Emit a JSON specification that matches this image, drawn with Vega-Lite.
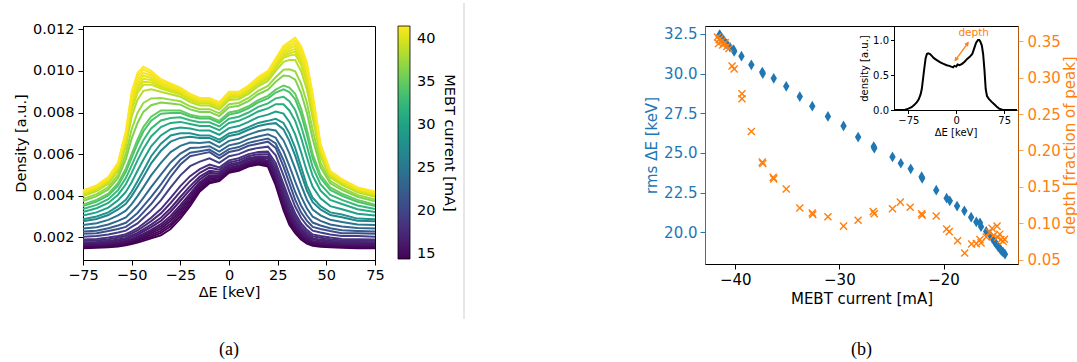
{
"$schema": "https://vega.github.io/schema/vega-lite/v6.json",
"padding": {"left": 12, "top": 2, "right": 0, "bottom": 0},
"bounds": "flush",
"spacing": 89,
"resolve": {"scale": {"color": "independent"}, "legend": {"color": "independent"}},
"config": {
 "font": "DejaVu Sans",
 "view": {"stroke": "black", "strokeWidth": 1},
 "axis": {"grid": false, "labelFont": "DejaVu Sans", "titleFont": "DejaVu Sans", "labelFontSize": 14.5, "titleFontSize": 14.5, "titleFontWeight": "normal", "labelColor": "black", "titleColor": "black", "tickColor": "black", "domainColor": "black", "tickSize": 5, "labelPadding": 3, "titlePadding": 4, "labelFlush": false, "labelOverlap": false, "labelBound": false},
 "legend": {"labelFont": "DejaVu Sans", "titleFont": "DejaVu Sans", "labelFontSize": 14.5, "titleFontSize": 14.5, "titleFontWeight": "normal", "labelColor": "black", "titleColor": "black"},
 "title": {"font": "Liberation Serif", "fontSize": 18, "fontWeight": "normal", "color": "black"}
},
"datasets": {
"curves": [
{"I":14.1,"E":-75,"d":0.00148},{"I":14.1,"E":-68,"d":0.0015},{"I":14.1,"E":-62,"d":0.00152},{"I":14.1,"E":-57,"d":0.00156},{"I":14.1,"E":-53,"d":0.00162},{"I":14.1,"E":-50,"d":0.00168},{"I":14.1,"E":-47,"d":0.00175},{"I":14.1,"E":-44,"d":0.00183},{"I":14.1,"E":-40,"d":0.00195},{"I":14.1,"E":-35,"d":0.0021},{"I":14.1,"E":-30,"d":0.0024},{"I":14.1,"E":-25,"d":0.0029},{"I":14.1,"E":-20,"d":0.0035},{"I":14.1,"E":-15,"d":0.0042},{"I":14.1,"E":-10,"d":0.0046},{"I":14.1,"E":-5,"d":0.0047},{"I":14.1,"E":0,"d":0.0051},{"I":14.1,"E":5,"d":0.0052},{"I":14.1,"E":10,"d":0.0054},{"I":14.1,"E":15,"d":0.0055},{"I":14.1,"E":20,"d":0.0054},{"I":14.1,"E":24,"d":0.0045},{"I":14.1,"E":28,"d":0.0033},{"I":14.1,"E":31,"d":0.0026},{"I":14.1,"E":34,"d":0.0022},{"I":14.1,"E":37,"d":0.0019},{"I":14.1,"E":40,"d":0.0017},{"I":14.1,"E":43,"d":0.0016},{"I":14.1,"E":47,"d":0.00155},{"I":14.1,"E":52,"d":0.00152},{"I":14.1,"E":58,"d":0.0015},{"I":14.1,"E":66,"d":0.00148},{"I":14.1,"E":75,"d":0.00148},
{"I":14.5,"E":-75,"d":0.00151},{"I":14.5,"E":-68,"d":0.00154},{"I":14.5,"E":-62,"d":0.00156},{"I":14.5,"E":-57,"d":0.0016},{"I":14.5,"E":-53,"d":0.00166},{"I":14.5,"E":-50,"d":0.00173},{"I":14.5,"E":-47,"d":0.00181},{"I":14.5,"E":-44,"d":0.0019},{"I":14.5,"E":-40,"d":0.00203},{"I":14.5,"E":-35,"d":0.00221},{"I":14.5,"E":-30,"d":0.00253},{"I":14.5,"E":-25,"d":0.00303},{"I":14.5,"E":-20,"d":0.00362},{"I":14.5,"E":-15,"d":0.00429},{"I":14.5,"E":-10,"d":0.00468},{"I":14.5,"E":-5,"d":0.00476},{"I":14.5,"E":0,"d":0.00515},{"I":14.5,"E":5,"d":0.00525},{"I":14.5,"E":10,"d":0.00545},{"I":14.5,"E":15,"d":0.00555},{"I":14.5,"E":20,"d":0.00546},{"I":14.5,"E":24,"d":0.00459},{"I":14.5,"E":28,"d":0.00341},{"I":14.5,"E":31,"d":0.0027},{"I":14.5,"E":34,"d":0.00228},{"I":14.5,"E":37,"d":0.00197},{"I":14.5,"E":40,"d":0.00176},{"I":14.5,"E":43,"d":0.00165},{"I":14.5,"E":47,"d":0.00159},{"I":14.5,"E":52,"d":0.00156},{"I":14.5,"E":58,"d":0.00154},{"I":14.5,"E":66,"d":0.00152},{"I":14.5,"E":75,"d":0.00151},
{"I":14.8,"E":-75,"d":0.00155},{"I":14.8,"E":-68,"d":0.00157},{"I":14.8,"E":-62,"d":0.0016},{"I":14.8,"E":-57,"d":0.00164},{"I":14.8,"E":-53,"d":0.00171},{"I":14.8,"E":-50,"d":0.00178},{"I":14.8,"E":-47,"d":0.00187},{"I":14.8,"E":-44,"d":0.00197},{"I":14.8,"E":-40,"d":0.00212},{"I":14.8,"E":-35,"d":0.00231},{"I":14.8,"E":-30,"d":0.00265},{"I":14.8,"E":-25,"d":0.00316},{"I":14.8,"E":-20,"d":0.00374},{"I":14.8,"E":-15,"d":0.00438},{"I":14.8,"E":-10,"d":0.00475},{"I":14.8,"E":-5,"d":0.00481},{"I":14.8,"E":0,"d":0.0052},{"I":14.8,"E":5,"d":0.0053},{"I":14.8,"E":10,"d":0.0055},{"I":14.8,"E":15,"d":0.0056},{"I":14.8,"E":20,"d":0.00552},{"I":14.8,"E":24,"d":0.00468},{"I":14.8,"E":28,"d":0.00351},{"I":14.8,"E":31,"d":0.0028},{"I":14.8,"E":34,"d":0.00236},{"I":14.8,"E":37,"d":0.00203},{"I":14.8,"E":40,"d":0.00181},{"I":14.8,"E":43,"d":0.00169},{"I":14.8,"E":47,"d":0.00164},{"I":14.8,"E":52,"d":0.0016},{"I":14.8,"E":58,"d":0.00157},{"I":14.8,"E":66,"d":0.00155},{"I":14.8,"E":75,"d":0.00155},
{"I":15.1,"E":-75,"d":0.00158},{"I":15.1,"E":-68,"d":0.00161},{"I":15.1,"E":-62,"d":0.00164},{"I":15.1,"E":-57,"d":0.00169},{"I":15.1,"E":-53,"d":0.00175},{"I":15.1,"E":-50,"d":0.00183},{"I":15.1,"E":-47,"d":0.00192},{"I":15.1,"E":-44,"d":0.00204},{"I":15.1,"E":-40,"d":0.0022},{"I":15.1,"E":-35,"d":0.00242},{"I":15.1,"E":-30,"d":0.00278},{"I":15.1,"E":-25,"d":0.00329},{"I":15.1,"E":-20,"d":0.00386},{"I":15.1,"E":-15,"d":0.00447},{"I":15.1,"E":-10,"d":0.00483},{"I":15.1,"E":-5,"d":0.00487},{"I":15.1,"E":0,"d":0.00525},{"I":15.1,"E":5,"d":0.00535},{"I":15.1,"E":10,"d":0.00555},{"I":15.1,"E":15,"d":0.00565},{"I":15.1,"E":20,"d":0.00558},{"I":15.1,"E":24,"d":0.00477},{"I":15.1,"E":28,"d":0.00362},{"I":15.1,"E":31,"d":0.0029},{"I":15.1,"E":34,"d":0.00244},{"I":15.1,"E":37,"d":0.0021},{"I":15.1,"E":40,"d":0.00187},{"I":15.1,"E":43,"d":0.00174},{"I":15.1,"E":47,"d":0.00168},{"I":15.1,"E":52,"d":0.00164},{"I":15.1,"E":58,"d":0.00161},{"I":15.1,"E":66,"d":0.00159},{"I":15.1,"E":75,"d":0.00158},
{"I":15.5,"E":-75,"d":0.00162},{"I":15.5,"E":-68,"d":0.00164},{"I":15.5,"E":-62,"d":0.00168},{"I":15.5,"E":-57,"d":0.00173},{"I":15.5,"E":-53,"d":0.0018},{"I":15.5,"E":-50,"d":0.00188},{"I":15.5,"E":-47,"d":0.00198},{"I":15.5,"E":-44,"d":0.0021},{"I":15.5,"E":-40,"d":0.00228},{"I":15.5,"E":-35,"d":0.00252},{"I":15.5,"E":-30,"d":0.0029},{"I":15.5,"E":-25,"d":0.00342},{"I":15.5,"E":-20,"d":0.00398},{"I":15.5,"E":-15,"d":0.00456},{"I":15.5,"E":-10,"d":0.0049},{"I":15.5,"E":-5,"d":0.00492},{"I":15.5,"E":0,"d":0.0053},{"I":15.5,"E":5,"d":0.0054},{"I":15.5,"E":10,"d":0.0056},{"I":15.5,"E":15,"d":0.0057},{"I":15.5,"E":20,"d":0.00564},{"I":15.5,"E":24,"d":0.00486},{"I":15.5,"E":28,"d":0.00372},{"I":15.5,"E":31,"d":0.003},{"I":15.5,"E":34,"d":0.00252},{"I":15.5,"E":37,"d":0.00216},{"I":15.5,"E":40,"d":0.00192},{"I":15.5,"E":43,"d":0.00178},{"I":15.5,"E":47,"d":0.00172},{"I":15.5,"E":52,"d":0.00168},{"I":15.5,"E":58,"d":0.00164},{"I":15.5,"E":66,"d":0.00162},{"I":15.5,"E":75,"d":0.00162},
{"I":15.9,"E":-75,"d":0.00165},{"I":15.9,"E":-68,"d":0.00168},{"I":15.9,"E":-62,"d":0.00172},{"I":15.9,"E":-57,"d":0.00177},{"I":15.9,"E":-53,"d":0.00184},{"I":15.9,"E":-50,"d":0.00194},{"I":15.9,"E":-47,"d":0.00204},{"I":15.9,"E":-44,"d":0.00217},{"I":15.9,"E":-40,"d":0.00236},{"I":15.9,"E":-35,"d":0.00263},{"I":15.9,"E":-30,"d":0.00303},{"I":15.9,"E":-25,"d":0.00355},{"I":15.9,"E":-20,"d":0.0041},{"I":15.9,"E":-15,"d":0.00465},{"I":15.9,"E":-10,"d":0.00498},{"I":15.9,"E":-5,"d":0.00498},{"I":15.9,"E":0,"d":0.00535},{"I":15.9,"E":5,"d":0.00545},{"I":15.9,"E":10,"d":0.00565},{"I":15.9,"E":15,"d":0.00575},{"I":15.9,"E":20,"d":0.0057},{"I":15.9,"E":24,"d":0.00495},{"I":15.9,"E":28,"d":0.00383},{"I":15.9,"E":31,"d":0.0031},{"I":15.9,"E":34,"d":0.0026},{"I":15.9,"E":37,"d":0.00223},{"I":15.9,"E":40,"d":0.00198},{"I":15.9,"E":43,"d":0.00183},{"I":15.9,"E":47,"d":0.00176},{"I":15.9,"E":52,"d":0.00172},{"I":15.9,"E":58,"d":0.00168},{"I":15.9,"E":66,"d":0.00166},{"I":15.9,"E":75,"d":0.00165},
{"I":16.4,"E":-75,"d":0.00171},{"I":16.4,"E":-68,"d":0.00173},{"I":16.4,"E":-62,"d":0.00178},{"I":16.4,"E":-57,"d":0.00184},{"I":16.4,"E":-53,"d":0.00191},{"I":16.4,"E":-50,"d":0.00202},{"I":16.4,"E":-47,"d":0.00213},{"I":16.4,"E":-44,"d":0.00228},{"I":16.4,"E":-40,"d":0.00249},{"I":16.4,"E":-35,"d":0.00279},{"I":16.4,"E":-30,"d":0.00323},{"I":16.4,"E":-25,"d":0.00376},{"I":16.4,"E":-20,"d":0.00429},{"I":16.4,"E":-15,"d":0.00479},{"I":16.4,"E":-10,"d":0.0051},{"I":16.4,"E":-5,"d":0.00506},{"I":16.4,"E":0,"d":0.00543},{"I":16.4,"E":5,"d":0.00553},{"I":16.4,"E":10,"d":0.00573},{"I":16.4,"E":15,"d":0.00583},{"I":16.4,"E":20,"d":0.0058},{"I":16.4,"E":24,"d":0.00509},{"I":16.4,"E":28,"d":0.00399},{"I":16.4,"E":31,"d":0.00326},{"I":16.4,"E":34,"d":0.00273},{"I":16.4,"E":37,"d":0.00233},{"I":16.4,"E":40,"d":0.00206},{"I":16.4,"E":43,"d":0.0019},{"I":16.4,"E":47,"d":0.00183},{"I":16.4,"E":52,"d":0.00178},{"I":16.4,"E":58,"d":0.00173},{"I":16.4,"E":66,"d":0.00172},{"I":16.4,"E":75,"d":0.00171},
{"I":16.9,"E":-75,"d":0.00176},{"I":16.9,"E":-68,"d":0.00178},{"I":16.9,"E":-62,"d":0.00183},{"I":16.9,"E":-57,"d":0.0019},{"I":16.9,"E":-53,"d":0.00197},{"I":16.9,"E":-50,"d":0.00209},{"I":16.9,"E":-47,"d":0.00221},{"I":16.9,"E":-44,"d":0.00238},{"I":16.9,"E":-40,"d":0.00261},{"I":16.9,"E":-35,"d":0.00294},{"I":16.9,"E":-30,"d":0.0034},{"I":16.9,"E":-25,"d":0.00394},{"I":16.9,"E":-20,"d":0.00446},{"I":16.9,"E":-15,"d":0.00492},{"I":16.9,"E":-10,"d":0.0052},{"I":16.9,"E":-5,"d":0.00514},{"I":16.9,"E":0,"d":0.0055},{"I":16.9,"E":5,"d":0.0056},{"I":16.9,"E":10,"d":0.0058},{"I":16.9,"E":15,"d":0.0059},{"I":16.9,"E":20,"d":0.00588},{"I":16.9,"E":24,"d":0.00522},{"I":16.9,"E":28,"d":0.00414},{"I":16.9,"E":31,"d":0.0034},{"I":16.9,"E":34,"d":0.00284},{"I":16.9,"E":37,"d":0.00242},{"I":16.9,"E":40,"d":0.00214},{"I":16.9,"E":43,"d":0.00196},{"I":16.9,"E":47,"d":0.00189},{"I":16.9,"E":52,"d":0.00183},{"I":16.9,"E":58,"d":0.00178},{"I":16.9,"E":66,"d":0.00177},{"I":16.9,"E":75,"d":0.00176},
{"I":17.5,"E":-75,"d":0.00183},{"I":17.5,"E":-68,"d":0.00185},{"I":17.5,"E":-62,"d":0.00191},{"I":17.5,"E":-57,"d":0.00198},{"I":17.5,"E":-53,"d":0.00206},{"I":17.5,"E":-50,"d":0.00219},{"I":17.5,"E":-47,"d":0.00233},{"I":17.5,"E":-44,"d":0.00252},{"I":17.5,"E":-40,"d":0.00278},{"I":17.5,"E":-35,"d":0.00315},{"I":17.5,"E":-30,"d":0.00365},{"I":17.5,"E":-25,"d":0.0042},{"I":17.5,"E":-20,"d":0.0047},{"I":17.5,"E":-15,"d":0.0051},{"I":17.5,"E":-10,"d":0.00535},{"I":17.5,"E":-5,"d":0.00525},{"I":17.5,"E":0,"d":0.0056},{"I":17.5,"E":5,"d":0.0057},{"I":17.5,"E":10,"d":0.0059},{"I":17.5,"E":15,"d":0.006},{"I":17.5,"E":20,"d":0.006},{"I":17.5,"E":24,"d":0.0054},{"I":17.5,"E":28,"d":0.00435},{"I":17.5,"E":31,"d":0.0036},{"I":17.5,"E":34,"d":0.003},{"I":17.5,"E":37,"d":0.00255},{"I":17.5,"E":40,"d":0.00225},{"I":17.5,"E":43,"d":0.00205},{"I":17.5,"E":47,"d":0.00198},{"I":17.5,"E":52,"d":0.00191},{"I":17.5,"E":58,"d":0.00185},{"I":17.5,"E":66,"d":0.00184},{"I":17.5,"E":75,"d":0.00183},
{"I":18.0,"E":-75,"d":0.00189},{"I":18.0,"E":-68,"d":0.00192},{"I":18.0,"E":-62,"d":0.00199},{"I":18.0,"E":-57,"d":0.00206},{"I":18.0,"E":-53,"d":0.00215},{"I":18.0,"E":-50,"d":0.00229},{"I":18.0,"E":-47,"d":0.00244},{"I":18.0,"E":-44,"d":0.00265},{"I":18.0,"E":-40,"d":0.00294},{"I":18.0,"E":-35,"d":0.00336},{"I":18.0,"E":-30,"d":0.0039},{"I":18.0,"E":-25,"d":0.00446},{"I":18.0,"E":-20,"d":0.00494},{"I":18.0,"E":-15,"d":0.00528},{"I":18.0,"E":-10,"d":0.0055},{"I":18.0,"E":-5,"d":0.00536},{"I":18.0,"E":0,"d":0.0057},{"I":18.0,"E":5,"d":0.0058},{"I":18.0,"E":10,"d":0.006},{"I":18.0,"E":15,"d":0.0061},{"I":18.0,"E":20,"d":0.00612},{"I":18.0,"E":24,"d":0.00558},{"I":18.0,"E":28,"d":0.00456},{"I":18.0,"E":31,"d":0.0038},{"I":18.0,"E":34,"d":0.00316},{"I":18.0,"E":37,"d":0.00268},{"I":18.0,"E":40,"d":0.00236},{"I":18.0,"E":43,"d":0.00214},{"I":18.0,"E":47,"d":0.00206},{"I":18.0,"E":52,"d":0.00199},{"I":18.0,"E":58,"d":0.00192},{"I":18.0,"E":66,"d":0.00191},{"I":18.0,"E":75,"d":0.00189},
{"I":19.4,"E":-75,"d":0.00203},{"I":19.4,"E":-68,"d":0.00206},{"I":19.4,"E":-62,"d":0.00214},{"I":19.4,"E":-57,"d":0.00223},{"I":19.4,"E":-53,"d":0.00232},{"I":19.4,"E":-50,"d":0.0025},{"I":19.4,"E":-47,"d":0.00267},{"I":19.4,"E":-44,"d":0.00293},{"I":19.4,"E":-40,"d":0.00327},{"I":19.4,"E":-35,"d":0.00378},{"I":19.4,"E":-30,"d":0.0044},{"I":19.4,"E":-25,"d":0.00498},{"I":19.4,"E":-20,"d":0.00542},{"I":19.4,"E":-15,"d":0.00564},{"I":19.4,"E":-10,"d":0.0058},{"I":19.4,"E":-5,"d":0.00558},{"I":19.4,"E":0,"d":0.0059},{"I":19.4,"E":5,"d":0.006},{"I":19.4,"E":10,"d":0.0062},{"I":19.4,"E":15,"d":0.0063},{"I":19.4,"E":20,"d":0.00636},{"I":19.4,"E":24,"d":0.00594},{"I":19.4,"E":28,"d":0.00498},{"I":19.4,"E":31,"d":0.0042},{"I":19.4,"E":34,"d":0.00348},{"I":19.4,"E":37,"d":0.00294},{"I":19.4,"E":40,"d":0.00258},{"I":19.4,"E":43,"d":0.00232},{"I":19.4,"E":47,"d":0.00223},{"I":19.4,"E":52,"d":0.00214},{"I":19.4,"E":58,"d":0.00206},{"I":19.4,"E":66,"d":0.00206},{"I":19.4,"E":75,"d":0.00203},
{"I":20.7,"E":-75,"d":0.00217},{"I":20.7,"E":-68,"d":0.0022},{"I":20.7,"E":-62,"d":0.0023},{"I":20.7,"E":-57,"d":0.0024},{"I":20.7,"E":-53,"d":0.0025},{"I":20.7,"E":-50,"d":0.0027},{"I":20.7,"E":-47,"d":0.0029},{"I":20.7,"E":-44,"d":0.0032},{"I":20.7,"E":-40,"d":0.0036},{"I":20.7,"E":-35,"d":0.0042},{"I":20.7,"E":-30,"d":0.0049},{"I":20.7,"E":-25,"d":0.0055},{"I":20.7,"E":-20,"d":0.0059},{"I":20.7,"E":-15,"d":0.006},{"I":20.7,"E":-10,"d":0.0061},{"I":20.7,"E":-5,"d":0.0058},{"I":20.7,"E":0,"d":0.0061},{"I":20.7,"E":5,"d":0.0062},{"I":20.7,"E":10,"d":0.0064},{"I":20.7,"E":15,"d":0.0065},{"I":20.7,"E":20,"d":0.0066},{"I":20.7,"E":24,"d":0.0063},{"I":20.7,"E":28,"d":0.0054},{"I":20.7,"E":31,"d":0.0046},{"I":20.7,"E":34,"d":0.0038},{"I":20.7,"E":37,"d":0.0032},{"I":20.7,"E":40,"d":0.0028},{"I":20.7,"E":43,"d":0.0025},{"I":20.7,"E":47,"d":0.0024},{"I":20.7,"E":52,"d":0.0023},{"I":20.7,"E":58,"d":0.0022},{"I":20.7,"E":66,"d":0.0022},{"I":20.7,"E":75,"d":0.00217},
{"I":22.1,"E":-75,"d":0.00228},{"I":22.1,"E":-68,"d":0.00232},{"I":22.1,"E":-62,"d":0.00244},{"I":22.1,"E":-57,"d":0.00257},{"I":22.1,"E":-53,"d":0.0027},{"I":22.1,"E":-50,"d":0.00293},{"I":22.1,"E":-47,"d":0.00317},{"I":22.1,"E":-44,"d":0.0035},{"I":22.1,"E":-40,"d":0.00395},{"I":22.1,"E":-35,"d":0.00455},{"I":22.1,"E":-30,"d":0.0052},{"I":22.1,"E":-25,"d":0.00573},{"I":22.1,"E":-20,"d":0.00607},{"I":22.1,"E":-15,"d":0.00614},{"I":22.1,"E":-10,"d":0.00622},{"I":22.1,"E":-5,"d":0.00594},{"I":22.1,"E":0,"d":0.00624},{"I":22.1,"E":5,"d":0.00634},{"I":22.1,"E":10,"d":0.00654},{"I":22.1,"E":15,"d":0.00665},{"I":22.1,"E":20,"d":0.00675},{"I":22.1,"E":24,"d":0.00651},{"I":22.1,"E":28,"d":0.00572},{"I":22.1,"E":31,"d":0.00496},{"I":22.1,"E":34,"d":0.00418},{"I":22.1,"E":37,"d":0.00353},{"I":22.1,"E":40,"d":0.00306},{"I":22.1,"E":43,"d":0.00271},{"I":22.1,"E":47,"d":0.00257},{"I":22.1,"E":52,"d":0.00244},{"I":22.1,"E":58,"d":0.00234},{"I":22.1,"E":66,"d":0.00231},{"I":22.1,"E":75,"d":0.00228},
{"I":23.2,"E":-75,"d":0.00242},{"I":23.2,"E":-68,"d":0.00248},{"I":23.2,"E":-62,"d":0.00262},{"I":23.2,"E":-57,"d":0.00279},{"I":23.2,"E":-53,"d":0.00296},{"I":23.2,"E":-50,"d":0.00323},{"I":23.2,"E":-47,"d":0.00353},{"I":23.2,"E":-44,"d":0.0039},{"I":23.2,"E":-40,"d":0.00441},{"I":23.2,"E":-35,"d":0.00501},{"I":23.2,"E":-30,"d":0.0056},{"I":23.2,"E":-25,"d":0.00603},{"I":23.2,"E":-20,"d":0.00629},{"I":23.2,"E":-15,"d":0.00632},{"I":23.2,"E":-10,"d":0.00638},{"I":23.2,"E":-5,"d":0.00612},{"I":23.2,"E":0,"d":0.00642},{"I":23.2,"E":5,"d":0.00652},{"I":23.2,"E":10,"d":0.00672},{"I":23.2,"E":15,"d":0.00685},{"I":23.2,"E":20,"d":0.00695},{"I":23.2,"E":24,"d":0.00679},{"I":23.2,"E":28,"d":0.00614},{"I":23.2,"E":31,"d":0.00544},{"I":23.2,"E":34,"d":0.00468},{"I":23.2,"E":37,"d":0.00397},{"I":23.2,"E":40,"d":0.0034},{"I":23.2,"E":43,"d":0.00299},{"I":23.2,"E":47,"d":0.00279},{"I":23.2,"E":52,"d":0.00262},{"I":23.2,"E":58,"d":0.00252},{"I":23.2,"E":66,"d":0.00245},{"I":23.2,"E":75,"d":0.00242},
{"I":24.9,"E":-75,"d":0.00259},{"I":24.9,"E":-68,"d":0.00268},{"I":24.9,"E":-62,"d":0.00284},{"I":24.9,"E":-57,"d":0.00306},{"I":24.9,"E":-53,"d":0.00328},{"I":24.9,"E":-50,"d":0.0036},{"I":24.9,"E":-47,"d":0.00398},{"I":24.9,"E":-44,"d":0.0044},{"I":24.9,"E":-40,"d":0.00498},{"I":24.9,"E":-35,"d":0.00558},{"I":24.9,"E":-30,"d":0.0061},{"I":24.9,"E":-25,"d":0.0064},{"I":24.9,"E":-20,"d":0.00656},{"I":24.9,"E":-15,"d":0.00654},{"I":24.9,"E":-10,"d":0.00658},{"I":24.9,"E":-5,"d":0.00634},{"I":24.9,"E":0,"d":0.00664},{"I":24.9,"E":5,"d":0.00674},{"I":24.9,"E":10,"d":0.00694},{"I":24.9,"E":15,"d":0.0071},{"I":24.9,"E":20,"d":0.0072},{"I":24.9,"E":24,"d":0.00714},{"I":24.9,"E":28,"d":0.00666},{"I":24.9,"E":31,"d":0.00604},{"I":24.9,"E":34,"d":0.0053},{"I":24.9,"E":37,"d":0.00452},{"I":24.9,"E":40,"d":0.00382},{"I":24.9,"E":43,"d":0.00334},{"I":24.9,"E":47,"d":0.00306},{"I":24.9,"E":52,"d":0.00284},{"I":24.9,"E":58,"d":0.00274},{"I":24.9,"E":66,"d":0.00262},{"I":24.9,"E":75,"d":0.00259},
{"I":26.7,"E":-75,"d":0.00277},{"I":26.7,"E":-68,"d":0.00288},{"I":26.7,"E":-62,"d":0.00307},{"I":26.7,"E":-57,"d":0.00334},{"I":26.7,"E":-53,"d":0.00361},{"I":26.7,"E":-50,"d":0.00398},{"I":26.7,"E":-47,"d":0.00443},{"I":26.7,"E":-44,"d":0.0049},{"I":26.7,"E":-40,"d":0.00556},{"I":26.7,"E":-35,"d":0.00616},{"I":26.7,"E":-30,"d":0.0066},{"I":26.7,"E":-25,"d":0.00678},{"I":26.7,"E":-20,"d":0.00684},{"I":26.7,"E":-15,"d":0.00677},{"I":26.7,"E":-10,"d":0.00678},{"I":26.7,"E":-5,"d":0.00657},{"I":26.7,"E":0,"d":0.00687},{"I":26.7,"E":5,"d":0.00697},{"I":26.7,"E":10,"d":0.00717},{"I":26.7,"E":15,"d":0.00735},{"I":26.7,"E":20,"d":0.00745},{"I":26.7,"E":24,"d":0.00749},{"I":26.7,"E":28,"d":0.00719},{"I":26.7,"E":31,"d":0.00664},{"I":26.7,"E":34,"d":0.00593},{"I":26.7,"E":37,"d":0.00507},{"I":26.7,"E":40,"d":0.00425},{"I":26.7,"E":43,"d":0.00369},{"I":26.7,"E":47,"d":0.00334},{"I":26.7,"E":52,"d":0.00307},{"I":26.7,"E":58,"d":0.00297},{"I":26.7,"E":66,"d":0.0028},{"I":26.7,"E":75,"d":0.00277},
{"I":28.2,"E":-75,"d":0.00287},{"I":28.2,"E":-68,"d":0.003},{"I":28.2,"E":-62,"d":0.0032},{"I":28.2,"E":-57,"d":0.0035},{"I":28.2,"E":-53,"d":0.0038},{"I":28.2,"E":-50,"d":0.0042},{"I":28.2,"E":-47,"d":0.0047},{"I":28.2,"E":-44,"d":0.0052},{"I":28.2,"E":-40,"d":0.0059},{"I":28.2,"E":-35,"d":0.0065},{"I":28.2,"E":-30,"d":0.0069},{"I":28.2,"E":-25,"d":0.007},{"I":28.2,"E":-20,"d":0.007},{"I":28.2,"E":-15,"d":0.0069},{"I":28.2,"E":-10,"d":0.0069},{"I":28.2,"E":-5,"d":0.0067},{"I":28.2,"E":0,"d":0.007},{"I":28.2,"E":5,"d":0.0071},{"I":28.2,"E":10,"d":0.0073},{"I":28.2,"E":15,"d":0.0075},{"I":28.2,"E":20,"d":0.0076},{"I":28.2,"E":24,"d":0.0077},{"I":28.2,"E":28,"d":0.0075},{"I":28.2,"E":31,"d":0.007},{"I":28.2,"E":34,"d":0.0063},{"I":28.2,"E":37,"d":0.0054},{"I":28.2,"E":40,"d":0.0045},{"I":28.2,"E":43,"d":0.0039},{"I":28.2,"E":47,"d":0.0035},{"I":28.2,"E":52,"d":0.0032},{"I":28.2,"E":58,"d":0.0031},{"I":28.2,"E":66,"d":0.0029},{"I":28.2,"E":75,"d":0.00287},
{"I":29.6,"E":-75,"d":0.00305},{"I":29.6,"E":-68,"d":0.0032},{"I":29.6,"E":-62,"d":0.00343},{"I":29.6,"E":-57,"d":0.00378},{"I":29.6,"E":-53,"d":0.00418},{"I":29.6,"E":-50,"d":0.00465},{"I":29.6,"E":-47,"d":0.0052},{"I":29.6,"E":-44,"d":0.00573},{"I":29.6,"E":-40,"d":0.00638},{"I":29.6,"E":-35,"d":0.0069},{"I":29.6,"E":-30,"d":0.0072},{"I":29.6,"E":-25,"d":0.00728},{"I":29.6,"E":-20,"d":0.00723},{"I":29.6,"E":-15,"d":0.00713},{"I":29.6,"E":-10,"d":0.00713},{"I":29.6,"E":-5,"d":0.00693},{"I":29.6,"E":0,"d":0.00725},{"I":29.6,"E":5,"d":0.00735},{"I":29.6,"E":10,"d":0.00755},{"I":29.6,"E":15,"d":0.00778},{"I":29.6,"E":20,"d":0.0079},{"I":29.6,"E":24,"d":0.00805},{"I":29.6,"E":28,"d":0.00795},{"I":29.6,"E":31,"d":0.00755},{"I":29.6,"E":34,"d":0.00695},{"I":29.6,"E":37,"d":0.0061},{"I":29.6,"E":40,"d":0.00518},{"I":29.6,"E":43,"d":0.00443},{"I":29.6,"E":47,"d":0.00388},{"I":29.6,"E":52,"d":0.0035},{"I":29.6,"E":58,"d":0.00335},{"I":29.6,"E":66,"d":0.00313},{"I":29.6,"E":75,"d":0.00305},
{"I":31.1,"E":-75,"d":0.00322},{"I":31.1,"E":-68,"d":0.0034},{"I":31.1,"E":-62,"d":0.00365},{"I":31.1,"E":-57,"d":0.00405},{"I":31.1,"E":-53,"d":0.00455},{"I":31.1,"E":-50,"d":0.0051},{"I":31.1,"E":-47,"d":0.0057},{"I":31.1,"E":-44,"d":0.00625},{"I":31.1,"E":-40,"d":0.00685},{"I":31.1,"E":-35,"d":0.0073},{"I":31.1,"E":-30,"d":0.0075},{"I":31.1,"E":-25,"d":0.00755},{"I":31.1,"E":-20,"d":0.00745},{"I":31.1,"E":-15,"d":0.00735},{"I":31.1,"E":-10,"d":0.00735},{"I":31.1,"E":-5,"d":0.00715},{"I":31.1,"E":0,"d":0.0075},{"I":31.1,"E":5,"d":0.0076},{"I":31.1,"E":10,"d":0.0078},{"I":31.1,"E":15,"d":0.00805},{"I":31.1,"E":20,"d":0.0082},{"I":31.1,"E":24,"d":0.0084},{"I":31.1,"E":28,"d":0.0084},{"I":31.1,"E":31,"d":0.0081},{"I":31.1,"E":34,"d":0.0076},{"I":31.1,"E":37,"d":0.0068},{"I":31.1,"E":40,"d":0.00585},{"I":31.1,"E":43,"d":0.00495},{"I":31.1,"E":47,"d":0.00425},{"I":31.1,"E":52,"d":0.0038},{"I":31.1,"E":58,"d":0.0036},{"I":31.1,"E":66,"d":0.00335},{"I":31.1,"E":75,"d":0.00322},
{"I":32.6,"E":-75,"d":0.00336},{"I":32.6,"E":-68,"d":0.00356},{"I":32.6,"E":-62,"d":0.00383},{"I":32.6,"E":-57,"d":0.00427},{"I":32.6,"E":-53,"d":0.00485},{"I":32.6,"E":-50,"d":0.00546},{"I":32.6,"E":-47,"d":0.0061},{"I":32.6,"E":-44,"d":0.00667},{"I":32.6,"E":-40,"d":0.00723},{"I":32.6,"E":-35,"d":0.00762},{"I":32.6,"E":-30,"d":0.00774},{"I":32.6,"E":-25,"d":0.00777},{"I":32.6,"E":-20,"d":0.00763},{"I":32.6,"E":-15,"d":0.00753},{"I":32.6,"E":-10,"d":0.00753},{"I":32.6,"E":-5,"d":0.00733},{"I":32.6,"E":0,"d":0.0077},{"I":32.6,"E":5,"d":0.0078},{"I":32.6,"E":10,"d":0.008},{"I":32.6,"E":15,"d":0.00827},{"I":32.6,"E":20,"d":0.00844},{"I":32.6,"E":24,"d":0.00868},{"I":32.6,"E":28,"d":0.00876},{"I":32.6,"E":31,"d":0.00854},{"I":32.6,"E":34,"d":0.00812},{"I":32.6,"E":37,"d":0.00736},{"I":32.6,"E":40,"d":0.00639},{"I":32.6,"E":43,"d":0.00537},{"I":32.6,"E":47,"d":0.00455},{"I":32.6,"E":52,"d":0.00404},{"I":32.6,"E":58,"d":0.0038},{"I":32.6,"E":66,"d":0.00353},{"I":32.6,"E":75,"d":0.00336},
{"I":33.8,"E":-75,"d":0.0035},{"I":33.8,"E":-68,"d":0.00372},{"I":33.8,"E":-62,"d":0.00401},{"I":33.8,"E":-57,"d":0.00449},{"I":33.8,"E":-53,"d":0.00515},{"I":33.8,"E":-50,"d":0.00582},{"I":33.8,"E":-47,"d":0.0065},{"I":33.8,"E":-44,"d":0.00709},{"I":33.8,"E":-40,"d":0.00761},{"I":33.8,"E":-35,"d":0.00794},{"I":33.8,"E":-30,"d":0.00798},{"I":33.8,"E":-25,"d":0.00799},{"I":33.8,"E":-20,"d":0.00781},{"I":33.8,"E":-15,"d":0.00771},{"I":33.8,"E":-10,"d":0.00771},{"I":33.8,"E":-5,"d":0.00751},{"I":33.8,"E":0,"d":0.0079},{"I":33.8,"E":5,"d":0.008},{"I":33.8,"E":10,"d":0.0082},{"I":33.8,"E":15,"d":0.00849},{"I":33.8,"E":20,"d":0.00868},{"I":33.8,"E":24,"d":0.00896},{"I":33.8,"E":28,"d":0.00912},{"I":33.8,"E":31,"d":0.00898},{"I":33.8,"E":34,"d":0.00864},{"I":33.8,"E":37,"d":0.00792},{"I":33.8,"E":40,"d":0.00693},{"I":33.8,"E":43,"d":0.00579},{"I":33.8,"E":47,"d":0.00485},{"I":33.8,"E":52,"d":0.00428},{"I":33.8,"E":58,"d":0.004},{"I":33.8,"E":66,"d":0.00371},{"I":33.8,"E":75,"d":0.0035},
{"I":35.1,"E":-75,"d":0.00357},{"I":35.1,"E":-68,"d":0.0038},{"I":35.1,"E":-62,"d":0.0041},{"I":35.1,"E":-57,"d":0.0046},{"I":35.1,"E":-53,"d":0.0053},{"I":35.1,"E":-50,"d":0.006},{"I":35.1,"E":-47,"d":0.0067},{"I":35.1,"E":-44,"d":0.0073},{"I":35.1,"E":-40,"d":0.0078},{"I":35.1,"E":-35,"d":0.0081},{"I":35.1,"E":-30,"d":0.0081},{"I":35.1,"E":-25,"d":0.0081},{"I":35.1,"E":-20,"d":0.0079},{"I":35.1,"E":-15,"d":0.0078},{"I":35.1,"E":-10,"d":0.0078},{"I":35.1,"E":-5,"d":0.0076},{"I":35.1,"E":0,"d":0.008},{"I":35.1,"E":5,"d":0.0081},{"I":35.1,"E":10,"d":0.0083},{"I":35.1,"E":15,"d":0.0086},{"I":35.1,"E":20,"d":0.0088},{"I":35.1,"E":24,"d":0.0091},{"I":35.1,"E":28,"d":0.0093},{"I":35.1,"E":31,"d":0.0092},{"I":35.1,"E":34,"d":0.0089},{"I":35.1,"E":37,"d":0.0082},{"I":35.1,"E":40,"d":0.0072},{"I":35.1,"E":43,"d":0.006},{"I":35.1,"E":47,"d":0.005},{"I":35.1,"E":52,"d":0.0044},{"I":35.1,"E":58,"d":0.0041},{"I":35.1,"E":66,"d":0.0038},{"I":35.1,"E":75,"d":0.00357},
{"I":36.3,"E":-75,"d":0.00374},{"I":36.3,"E":-68,"d":0.00398},{"I":36.3,"E":-62,"d":0.0043},{"I":36.3,"E":-57,"d":0.00485},{"I":36.3,"E":-53,"d":0.00575},{"I":36.3,"E":-50,"d":0.00675},{"I":36.3,"E":-47,"d":0.0075},{"I":36.3,"E":-44,"d":0.00803},{"I":36.3,"E":-40,"d":0.00835},{"I":36.3,"E":-35,"d":0.00848},{"I":36.3,"E":-30,"d":0.00843},{"I":36.3,"E":-25,"d":0.00838},{"I":36.3,"E":-20,"d":0.00815},{"I":36.3,"E":-15,"d":0.00803},{"I":36.3,"E":-10,"d":0.00803},{"I":36.3,"E":-5,"d":0.00783},{"I":36.3,"E":0,"d":0.00825},{"I":36.3,"E":5,"d":0.00833},{"I":36.3,"E":10,"d":0.00855},{"I":36.3,"E":15,"d":0.00888},{"I":36.3,"E":20,"d":0.0091},{"I":36.3,"E":24,"d":0.00948},{"I":36.3,"E":28,"d":0.00978},{"I":36.3,"E":31,"d":0.00975},{"I":36.3,"E":34,"d":0.00958},{"I":36.3,"E":37,"d":0.00895},{"I":36.3,"E":40,"d":0.008},{"I":36.3,"E":43,"d":0.00673},{"I":36.3,"E":47,"d":0.00538},{"I":36.3,"E":52,"d":0.0046},{"I":36.3,"E":58,"d":0.00428},{"I":36.3,"E":66,"d":0.00395},{"I":36.3,"E":75,"d":0.00373},
{"I":37.4,"E":-75,"d":0.00384},{"I":37.4,"E":-68,"d":0.00408},{"I":37.4,"E":-62,"d":0.00442},{"I":37.4,"E":-57,"d":0.005},{"I":37.4,"E":-53,"d":0.00602},{"I":37.4,"E":-50,"d":0.0072},{"I":37.4,"E":-47,"d":0.00798},{"I":37.4,"E":-44,"d":0.00846},{"I":37.4,"E":-40,"d":0.00868},{"I":37.4,"E":-35,"d":0.0087},{"I":37.4,"E":-30,"d":0.00862},{"I":37.4,"E":-25,"d":0.00854},{"I":37.4,"E":-20,"d":0.0083},{"I":37.4,"E":-15,"d":0.00816},{"I":37.4,"E":-10,"d":0.00816},{"I":37.4,"E":-5,"d":0.00796},{"I":37.4,"E":0,"d":0.0084},{"I":37.4,"E":5,"d":0.00846},{"I":37.4,"E":10,"d":0.0087},{"I":37.4,"E":15,"d":0.00904},{"I":37.4,"E":20,"d":0.00928},{"I":37.4,"E":24,"d":0.0097},{"I":37.4,"E":28,"d":0.01006},{"I":37.4,"E":31,"d":0.01008},{"I":37.4,"E":34,"d":0.00998},{"I":37.4,"E":37,"d":0.0094},{"I":37.4,"E":40,"d":0.00848},{"I":37.4,"E":43,"d":0.00716},{"I":37.4,"E":47,"d":0.0056},{"I":37.4,"E":52,"d":0.00472},{"I":37.4,"E":58,"d":0.00438},{"I":37.4,"E":66,"d":0.00404},{"I":37.4,"E":75,"d":0.00382},
{"I":38.5,"E":-75,"d":0.00398},{"I":38.5,"E":-68,"d":0.00422},{"I":38.5,"E":-62,"d":0.00458},{"I":38.5,"E":-57,"d":0.0052},{"I":38.5,"E":-53,"d":0.00638},{"I":38.5,"E":-50,"d":0.0078},{"I":38.5,"E":-47,"d":0.00862},{"I":38.5,"E":-44,"d":0.00904},{"I":38.5,"E":-40,"d":0.00912},{"I":38.5,"E":-35,"d":0.009},{"I":38.5,"E":-30,"d":0.00888},{"I":38.5,"E":-25,"d":0.00876},{"I":38.5,"E":-20,"d":0.0085},{"I":38.5,"E":-15,"d":0.00834},{"I":38.5,"E":-10,"d":0.00834},{"I":38.5,"E":-5,"d":0.00814},{"I":38.5,"E":0,"d":0.0086},{"I":38.5,"E":5,"d":0.00864},{"I":38.5,"E":10,"d":0.0089},{"I":38.5,"E":15,"d":0.00926},{"I":38.5,"E":20,"d":0.00952},{"I":38.5,"E":24,"d":0.01},{"I":38.5,"E":28,"d":0.01044},{"I":38.5,"E":31,"d":0.01052},{"I":38.5,"E":34,"d":0.01052},{"I":38.5,"E":37,"d":0.01},{"I":38.5,"E":40,"d":0.00912},{"I":38.5,"E":43,"d":0.00774},{"I":38.5,"E":47,"d":0.0059},{"I":38.5,"E":52,"d":0.00488},{"I":38.5,"E":58,"d":0.00452},{"I":38.5,"E":66,"d":0.00416},{"I":38.5,"E":75,"d":0.00395},
{"I":39.4,"E":-75,"d":0.00405},{"I":39.4,"E":-68,"d":0.00429},{"I":39.4,"E":-62,"d":0.00466},{"I":39.4,"E":-57,"d":0.0053},{"I":39.4,"E":-53,"d":0.00656},{"I":39.4,"E":-50,"d":0.0081},{"I":39.4,"E":-47,"d":0.00894},{"I":39.4,"E":-44,"d":0.00933},{"I":39.4,"E":-40,"d":0.00934},{"I":39.4,"E":-35,"d":0.00915},{"I":39.4,"E":-30,"d":0.00901},{"I":39.4,"E":-25,"d":0.00887},{"I":39.4,"E":-20,"d":0.0086},{"I":39.4,"E":-15,"d":0.00843},{"I":39.4,"E":-10,"d":0.00843},{"I":39.4,"E":-5,"d":0.00823},{"I":39.4,"E":0,"d":0.0087},{"I":39.4,"E":5,"d":0.00873},{"I":39.4,"E":10,"d":0.009},{"I":39.4,"E":15,"d":0.00937},{"I":39.4,"E":20,"d":0.00964},{"I":39.4,"E":24,"d":0.01015},{"I":39.4,"E":28,"d":0.01063},{"I":39.4,"E":31,"d":0.01074},{"I":39.4,"E":34,"d":0.01079},{"I":39.4,"E":37,"d":0.0103},{"I":39.4,"E":40,"d":0.00944},{"I":39.4,"E":43,"d":0.00803},{"I":39.4,"E":47,"d":0.00605},{"I":39.4,"E":52,"d":0.00496},{"I":39.4,"E":58,"d":0.00459},{"I":39.4,"E":66,"d":0.00422},{"I":39.4,"E":75,"d":0.00401},
{"I":39.8,"E":-75,"d":0.00408},{"I":39.8,"E":-68,"d":0.00433},{"I":39.8,"E":-62,"d":0.0047},{"I":39.8,"E":-57,"d":0.00535},{"I":39.8,"E":-53,"d":0.00665},{"I":39.8,"E":-50,"d":0.00825},{"I":39.8,"E":-47,"d":0.0091},{"I":39.8,"E":-44,"d":0.00948},{"I":39.8,"E":-40,"d":0.00945},{"I":39.8,"E":-35,"d":0.00923},{"I":39.8,"E":-30,"d":0.00908},{"I":39.8,"E":-25,"d":0.00893},{"I":39.8,"E":-20,"d":0.00865},{"I":39.8,"E":-15,"d":0.00848},{"I":39.8,"E":-10,"d":0.00848},{"I":39.8,"E":-5,"d":0.00828},{"I":39.8,"E":0,"d":0.00875},{"I":39.8,"E":5,"d":0.00878},{"I":39.8,"E":10,"d":0.00905},{"I":39.8,"E":15,"d":0.00943},{"I":39.8,"E":20,"d":0.0097},{"I":39.8,"E":24,"d":0.01023},{"I":39.8,"E":28,"d":0.01073},{"I":39.8,"E":31,"d":0.01085},{"I":39.8,"E":34,"d":0.01093},{"I":39.8,"E":37,"d":0.01045},{"I":39.8,"E":40,"d":0.0096},{"I":39.8,"E":43,"d":0.00818},{"I":39.8,"E":47,"d":0.00613},{"I":39.8,"E":52,"d":0.005},{"I":39.8,"E":58,"d":0.00463},{"I":39.8,"E":66,"d":0.00425},{"I":39.8,"E":75,"d":0.00404},
{"I":40.2,"E":-75,"d":0.00411},{"I":40.2,"E":-68,"d":0.00436},{"I":40.2,"E":-62,"d":0.00474},{"I":40.2,"E":-57,"d":0.0054},{"I":40.2,"E":-53,"d":0.00674},{"I":40.2,"E":-50,"d":0.0084},{"I":40.2,"E":-47,"d":0.00926},{"I":40.2,"E":-44,"d":0.00962},{"I":40.2,"E":-40,"d":0.00956},{"I":40.2,"E":-35,"d":0.0093},{"I":40.2,"E":-30,"d":0.00914},{"I":40.2,"E":-25,"d":0.00898},{"I":40.2,"E":-20,"d":0.0087},{"I":40.2,"E":-15,"d":0.00852},{"I":40.2,"E":-10,"d":0.00852},{"I":40.2,"E":-5,"d":0.00832},{"I":40.2,"E":0,"d":0.0088},{"I":40.2,"E":5,"d":0.00882},{"I":40.2,"E":10,"d":0.0091},{"I":40.2,"E":15,"d":0.00948},{"I":40.2,"E":20,"d":0.00976},{"I":40.2,"E":24,"d":0.0103},{"I":40.2,"E":28,"d":0.01082},{"I":40.2,"E":31,"d":0.01096},{"I":40.2,"E":34,"d":0.01106},{"I":40.2,"E":37,"d":0.0106},{"I":40.2,"E":40,"d":0.00976},{"I":40.2,"E":43,"d":0.00832},{"I":40.2,"E":47,"d":0.0062},{"I":40.2,"E":52,"d":0.00504},{"I":40.2,"E":58,"d":0.00466},{"I":40.2,"E":66,"d":0.00428},{"I":40.2,"E":75,"d":0.00407},
{"I":40.6,"E":-75,"d":0.00415},{"I":40.6,"E":-68,"d":0.0044},{"I":40.6,"E":-62,"d":0.00478},{"I":40.6,"E":-57,"d":0.00545},{"I":40.6,"E":-53,"d":0.00683},{"I":40.6,"E":-50,"d":0.00855},{"I":40.6,"E":-47,"d":0.00942},{"I":40.6,"E":-44,"d":0.00977},{"I":40.6,"E":-40,"d":0.00967},{"I":40.6,"E":-35,"d":0.00938},{"I":40.6,"E":-30,"d":0.00921},{"I":40.6,"E":-25,"d":0.00904},{"I":40.6,"E":-20,"d":0.00875},{"I":40.6,"E":-15,"d":0.00857},{"I":40.6,"E":-10,"d":0.00857},{"I":40.6,"E":-5,"d":0.00837},{"I":40.6,"E":0,"d":0.00885},{"I":40.6,"E":5,"d":0.00887},{"I":40.6,"E":10,"d":0.00915},{"I":40.6,"E":15,"d":0.00954},{"I":40.6,"E":20,"d":0.00982},{"I":40.6,"E":24,"d":0.01038},{"I":40.6,"E":28,"d":0.01092},{"I":40.6,"E":31,"d":0.01107},{"I":40.6,"E":34,"d":0.0112},{"I":40.6,"E":37,"d":0.01075},{"I":40.6,"E":40,"d":0.00992},{"I":40.6,"E":43,"d":0.00847},{"I":40.6,"E":47,"d":0.00628},{"I":40.6,"E":52,"d":0.00508},{"I":40.6,"E":58,"d":0.0047},{"I":40.6,"E":66,"d":0.00431},{"I":40.6,"E":75,"d":0.00411},
{"I":40.9,"E":-75,"d":0.00418},{"I":40.9,"E":-68,"d":0.00443},{"I":40.9,"E":-62,"d":0.00482},{"I":40.9,"E":-57,"d":0.0055},{"I":40.9,"E":-53,"d":0.00692},{"I":40.9,"E":-50,"d":0.0087},{"I":40.9,"E":-47,"d":0.00958},{"I":40.9,"E":-44,"d":0.00991},{"I":40.9,"E":-40,"d":0.00978},{"I":40.9,"E":-35,"d":0.00945},{"I":40.9,"E":-30,"d":0.00927},{"I":40.9,"E":-25,"d":0.00909},{"I":40.9,"E":-20,"d":0.0088},{"I":40.9,"E":-15,"d":0.00861},{"I":40.9,"E":-10,"d":0.00861},{"I":40.9,"E":-5,"d":0.00841},{"I":40.9,"E":0,"d":0.0089},{"I":40.9,"E":5,"d":0.00891},{"I":40.9,"E":10,"d":0.0092},{"I":40.9,"E":15,"d":0.00959},{"I":40.9,"E":20,"d":0.00988},{"I":40.9,"E":24,"d":0.01045},{"I":40.9,"E":28,"d":0.01101},{"I":40.9,"E":31,"d":0.01118},{"I":40.9,"E":34,"d":0.01133},{"I":40.9,"E":37,"d":0.0109},{"I":40.9,"E":40,"d":0.01008},{"I":40.9,"E":43,"d":0.00861},{"I":40.9,"E":47,"d":0.00635},{"I":40.9,"E":52,"d":0.00512},{"I":40.9,"E":58,"d":0.00473},{"I":40.9,"E":66,"d":0.00434},{"I":40.9,"E":75,"d":0.00414},
{"I":41.2,"E":-75,"d":0.00422},{"I":41.2,"E":-68,"d":0.00447},{"I":41.2,"E":-62,"d":0.00486},{"I":41.2,"E":-57,"d":0.00555},{"I":41.2,"E":-53,"d":0.00701},{"I":41.2,"E":-50,"d":0.00885},{"I":41.2,"E":-47,"d":0.00974},{"I":41.2,"E":-44,"d":0.01006},{"I":41.2,"E":-40,"d":0.00989},{"I":41.2,"E":-35,"d":0.00953},{"I":41.2,"E":-30,"d":0.00934},{"I":41.2,"E":-25,"d":0.00915},{"I":41.2,"E":-20,"d":0.00885},{"I":41.2,"E":-15,"d":0.00866},{"I":41.2,"E":-10,"d":0.00866},{"I":41.2,"E":-5,"d":0.00846},{"I":41.2,"E":0,"d":0.00895},{"I":41.2,"E":5,"d":0.00896},{"I":41.2,"E":10,"d":0.00925},{"I":41.2,"E":15,"d":0.00965},{"I":41.2,"E":20,"d":0.00994},{"I":41.2,"E":24,"d":0.01053},{"I":41.2,"E":28,"d":0.01111},{"I":41.2,"E":31,"d":0.01129},{"I":41.2,"E":34,"d":0.01147},{"I":41.2,"E":37,"d":0.01105},{"I":41.2,"E":40,"d":0.01024},{"I":41.2,"E":43,"d":0.00876},{"I":41.2,"E":47,"d":0.00643},{"I":41.2,"E":52,"d":0.00516},{"I":41.2,"E":58,"d":0.00477},{"I":41.2,"E":66,"d":0.00437},{"I":41.2,"E":75,"d":0.00417},
{"I":41.5,"E":-75,"d":0.00425},{"I":41.5,"E":-68,"d":0.0045},{"I":41.5,"E":-62,"d":0.0049},{"I":41.5,"E":-57,"d":0.0056},{"I":41.5,"E":-53,"d":0.0071},{"I":41.5,"E":-50,"d":0.009},{"I":41.5,"E":-47,"d":0.0099},{"I":41.5,"E":-44,"d":0.0102},{"I":41.5,"E":-40,"d":0.01},{"I":41.5,"E":-35,"d":0.0096},{"I":41.5,"E":-30,"d":0.0094},{"I":41.5,"E":-25,"d":0.0092},{"I":41.5,"E":-20,"d":0.0089},{"I":41.5,"E":-15,"d":0.0087},{"I":41.5,"E":-10,"d":0.0087},{"I":41.5,"E":-5,"d":0.0085},{"I":41.5,"E":0,"d":0.009},{"I":41.5,"E":5,"d":0.009},{"I":41.5,"E":10,"d":0.0093},{"I":41.5,"E":15,"d":0.0097},{"I":41.5,"E":20,"d":0.01},{"I":41.5,"E":24,"d":0.0106},{"I":41.5,"E":28,"d":0.0112},{"I":41.5,"E":31,"d":0.0114},{"I":41.5,"E":34,"d":0.0116},{"I":41.5,"E":37,"d":0.0112},{"I":41.5,"E":40,"d":0.0104},{"I":41.5,"E":43,"d":0.0089},{"I":41.5,"E":47,"d":0.0065},{"I":41.5,"E":52,"d":0.0052},{"I":41.5,"E":58,"d":0.0048},{"I":41.5,"E":66,"d":0.0044},{"I":41.5,"E":75,"d":0.0042}
],
"rms": [
{"I":-41.5,"rms":32.45},{"I":-41.45,"rms":32.4},{"I":-41.3,"rms":32.25},{"I":-41.1,"rms":32.1},{"I":-40.8,"rms":31.87},{"I":-40.5,"rms":31.66},{"I":-40.15,"rms":31.5},{"I":-40.1,"rms":31.4},{"I":-39.4,"rms":31.1},{"I":-38.45,"rms":30.55},{"I":-37.4,"rms":30.1},{"I":-37.35,"rms":30.0},{"I":-36.3,"rms":29.7},{"I":-35.1,"rms":29.2},{"I":-33.8,"rms":28.55},{"I":-32.6,"rms":27.95},{"I":-31.1,"rms":27.3},{"I":-29.6,"rms":26.7},{"I":-28.2,"rms":26.0},{"I":-26.7,"rms":25.4},{"I":-26.65,"rms":25.3},{"I":-24.9,"rms":24.75},{"I":-24.1,"rms":24.35},{"I":-23.15,"rms":24.0},{"I":-22.1,"rms":23.5},{"I":-22.05,"rms":23.4},{"I":-20.7,"rms":22.65},{"I":-19.7,"rms":22.15},{"I":-19.4,"rms":21.98},{"I":-18.7,"rms":21.65},{"I":-18.0,"rms":21.35},{"I":-17.35,"rms":20.95},{"I":-16.85,"rms":20.65},{"I":-16.5,"rms":20.6},{"I":-16.4,"rms":20.35},{"I":-15.9,"rms":20.05},{"I":-15.55,"rms":19.85},{"I":-15.3,"rms":19.6},{"I":-15.1,"rms":19.4},{"I":-14.93,"rms":19.25},{"I":-14.75,"rms":19.08},{"I":-14.6,"rms":18.98},{"I":-14.45,"rms":18.85},{"I":-14.28,"rms":18.75},{"I":-14.1,"rms":18.62}
],
"depth": [
{"I":-41.7,"depth":0.356},{"I":-41.55,"depth":0.352},{"I":-41.45,"depth":0.354},{"I":-41.6,"depth":0.347},{"I":-41.3,"depth":0.35},{"I":-41.2,"depth":0.345},{"I":-40.96,"depth":0.348},{"I":-40.8,"depth":0.343},{"I":-40.6,"depth":0.34},{"I":-40.3,"depth":0.316},{"I":-40.1,"depth":0.312},{"I":-39.35,"depth":0.278},{"I":-39.35,"depth":0.271},{"I":-38.45,"depth":0.226},{"I":-37.4,"depth":0.184},{"I":-37.35,"depth":0.182},{"I":-36.35,"depth":0.163},{"I":-36.3,"depth":0.161},{"I":-35.1,"depth":0.147},{"I":-33.8,"depth":0.121},{"I":-32.6,"depth":0.114},{"I":-32.55,"depth":0.112},{"I":-31.1,"depth":0.109},{"I":-29.6,"depth":0.096},{"I":-28.2,"depth":0.104},{"I":-26.75,"depth":0.116},{"I":-26.65,"depth":0.113},{"I":-24.9,"depth":0.12},{"I":-24.15,"depth":0.129},{"I":-23.2,"depth":0.122},{"I":-22.1,"depth":0.113},{"I":-22.05,"depth":0.111},{"I":-20.7,"depth":0.11},{"I":-19.7,"depth":0.092},{"I":-19.45,"depth":0.0885},{"I":-18.65,"depth":0.076},{"I":-17.97,"depth":0.059},{"I":-17.3,"depth":0.0715},{"I":-16.85,"depth":0.072},{"I":-16.5,"depth":0.0775},{"I":-16.4,"depth":0.073},{"I":-15.9,"depth":0.081},{"I":-15.6,"depth":0.0876},{"I":-15.34,"depth":0.093},{"I":-15.2,"depth":0.083},{"I":-14.86,"depth":0.096},{"I":-14.8,"depth":0.0807},{"I":-14.6,"depth":0.085},{"I":-14.5,"depth":0.0775},{"I":-14.28,"depth":0.0752},{"I":-14.15,"depth":0.078}
],
"inset": [
{"E":-97.5,"v":0},{"E":-80,"v":0.005},{"E":-75,"v":0.02},{"E":-70,"v":0.04},{"E":-66,"v":0.07},{"E":-62,"v":0.11},{"E":-59,"v":0.15},{"E":-56,"v":0.22},{"E":-54,"v":0.3},{"E":-52,"v":0.45},{"E":-50,"v":0.6},{"E":-48,"v":0.74},{"E":-46,"v":0.8},{"E":-44,"v":0.81},{"E":-41,"v":0.8},{"E":-38,"v":0.77},{"E":-35,"v":0.74},{"E":-30,"v":0.71},{"E":-25,"v":0.68},{"E":-20,"v":0.66},{"E":-15,"v":0.64},{"E":-11,"v":0.63},{"E":-8,"v":0.62},{"E":-5,"v":0.61},{"E":-3,"v":0.63},{"E":0,"v":0.62},{"E":2,"v":0.65},{"E":5,"v":0.64},{"E":9,"v":0.66},{"E":13,"v":0.69},{"E":17,"v":0.73},{"E":21,"v":0.76},{"E":25,"v":0.8},{"E":28,"v":0.88},{"E":31,"v":0.96},{"E":34,"v":1.0},{"E":36,"v":1.0},{"E":38,"v":0.97},{"E":40,"v":0.92},{"E":42,"v":0.8},{"E":44,"v":0.58},{"E":46,"v":0.3},{"E":48,"v":0.2},{"E":51,"v":0.16},{"E":55,"v":0.12},{"E":59,"v":0.085},{"E":63,"v":0.05},{"E":67,"v":0.02},{"E":72,"v":0.005},{"E":77,"v":0},{"E":95,"v":0}
]
},
"hconcat": [
{
 "width": 292, "height": 234,
 "title": {"text": "(a)", "orient": "bottom", "frame": "group", "offset": 42},
 "data": {"name": "curves"},
 "mark": {"type": "line", "strokeWidth": 2},
 "encoding": {
  "x": {"field": "E", "type": "quantitative", "scale": {"domain": [-75, 75], "nice": false, "zero": false}, "axis": {"values": [-75,-50,-25,0,25,50,75], "title": "ΔE [keV]", "labelExpr": "replace(datum.label, '-', '−')"}},
  "y": {"field": "d", "type": "quantitative", "scale": {"domain": [0.00091, 0.01216], "nice": false, "zero": false}, "axis": {"values": [0.002,0.004,0.006,0.008,0.01,0.012], "format": ".3f", "title": "Density [a.u.]", "labelPadding": 4}},
  "color": {"field": "I", "type": "quantitative", "scale": {"scheme": "viridis", "domain": [14.4, 41.5], "nice": false, "clamp": true}, "legend": {"title": "MEBT current [mA]", "orient": "right", "offset": 19, "type": "gradient", "direction": "vertical", "gradientLength": 233, "gradientThickness": 12, "values": [15,20,25,30,35,40], "titleOrient": "right", "titleAngle": 270, "titleAnchor": "middle", "titleBaseline": "top", "titlePadding": 21, "labelOffset": 7, "labelOverlap": false, "gradientStrokeColor": "black", "gradientStrokeWidth": 0.8}}
 }
},
{
 "width": 152, "height": 293,
 "view": {"stroke": null},
 "data": {"values": [{}]},
 "mark": {"type": "rule", "color": "#cfcfcf", "strokeWidth": 1},
 "encoding": {
  "x": {"datum": 0, "type": "quantitative", "scale": {"domain": [0, 1]}, "axis": null},
  "y": {"datum": 0, "type": "quantitative", "scale": {"domain": [0, 1], "range": [293, -23]}, "axis": null},
  "y2": {"datum": 1}
 }
},
{
 "width": 313, "height": 238,
 "title": {"text": "(b)", "orient": "bottom", "frame": "group", "offset": 35},
 "layer": [
  {
   "layer": [
    {
     "data": {"name": "rms"},
     "mark": {"type": "point", "shape": "M0,-1L0.6,0L0,1L-0.6,0Z", "filled": true, "size": 115, "color": "#1f77b4", "opacity": 1},
     "encoding": {
      "x": {"field": "I", "type": "quantitative", "scale": {"domain": [-42.9, -12.85], "nice": false, "zero": false}, "axis": {"values": [-40,-30,-20], "title": "MEBT current [mA]", "labelFontSize": 15, "titleFontSize": 15, "labelExpr": "replace(datum.label, '-', '−')"}},
      "y": {"field": "rms", "type": "quantitative", "scale": {"domain": [18.0, 33.0], "nice": false, "zero": false}, "axis": {"orient": "left", "values": [20,22.5,25,27.5,30,32.5], "format": ".1f", "title": "rms ΔE [keV]", "labelFontSize": 15, "titleFontSize": 15, "labelColor": "#1f77b4", "titleColor": "#1f77b4", "domainColor": "#1f77b4", "tickColor": "#1f77b4"}}
     }
    },
    {
     "data": {"name": "depth"},
     "mark": {"type": "point", "shape": "M-1,-1L1,1M-1,1L1,-1", "filled": false, "size": 50, "color": "#ff7f0e", "strokeWidth": 1.4, "opacity": 1},
     "encoding": {
      "x": {"field": "I", "type": "quantitative"},
      "y": {"field": "depth", "type": "quantitative", "scale": {"domain": [0.044, 0.371], "nice": false, "zero": false}, "axis": {"orient": "right", "values": [0.05,0.1,0.15,0.2,0.25,0.3,0.35], "format": ".2f", "title": "depth [fraction of peak]", "titleAngle": 270, "titleBaseline": "top", "titlePadding": 2, "labelPadding": 4, "labelFontSize": 15, "titleFontSize": 15, "labelColor": "#ff7f0e", "titleColor": "#ff7f0e", "domainColor": "#ff7f0e", "tickColor": "#ff7f0e", "domainOpacity": 0.7, "tickOpacity": 0.7}}
     }
    }
   ],
   "resolve": {"scale": {"y": "independent"}}
  },
  {
   "layer": [
    {
     "data": {"name": "inset"},
     "mark": {"type": "line", "color": "black", "strokeWidth": 2},
     "encoding": {
      "x": {"field": "E", "type": "quantitative", "scale": {"domain": [-97.5, 95], "range": [189, 312], "nice": false, "zero": false}, "axis": {"orient": "bottom", "offset": -154, "values": [-75, 0, 75], "title": "ΔE [keV]", "labelFontSize": 10, "titleFontSize": 10, "tickSize": 3.5, "labelPadding": 2, "titlePadding": 2, "labelExpr": "replace(datum.label, '-', '−')"}},
      "y": {"field": "v", "type": "quantitative", "scale": {"domain": [0, 1.2], "range": [84, 0], "nice": false, "zero": false}, "axis": {"orient": "left", "offset": -189, "values": [0, 0.5, 1], "format": ".1f", "title": "density [a.u.]", "labelFontSize": 10, "titleFontSize": 10, "tickSize": 3.5, "labelPadding": 2, "titlePadding": 3}}
     }
    },
    {
     "data": {"values": [{"E": -1.6, "v": 0.71, "E2": 18.3, "v2": 0.96}]},
     "mark": {"type": "rule", "color": "#ff7f0e", "strokeWidth": 1.3},
     "encoding": {"x": {"field": "E", "type": "quantitative"}, "y": {"field": "v", "type": "quantitative"}, "x2": {"field": "E2"}, "y2": {"field": "v2"}}
    },
    {
     "data": {"values": [{"E": 18.3, "v": 0.96}]},
     "mark": {"type": "point", "shape": "M-0.8,1.6L0,0L0.8,1.6", "filled": false, "size": 16, "angle": 36, "color": "#ff7f0e", "strokeWidth": 1.3, "opacity": 1},
     "encoding": {"x": {"field": "E", "type": "quantitative"}, "y": {"field": "v", "type": "quantitative"}}
    },
    {
     "data": {"values": [{"E": -1.6, "v": 0.71}]},
     "mark": {"type": "point", "shape": "M-0.8,1.6L0,0L0.8,1.6", "filled": false, "size": 16, "angle": 216, "color": "#ff7f0e", "strokeWidth": 1.3, "opacity": 1},
     "encoding": {"x": {"field": "E", "type": "quantitative"}, "y": {"field": "v", "type": "quantitative"}}
    },
    {
     "data": {"values": [{"E": 27.2, "v": 1.1, "t": "depth"}]},
     "mark": {"type": "text", "color": "#ff7f0e", "fontSize": 10.5},
     "encoding": {"x": {"field": "E", "type": "quantitative"}, "y": {"field": "v", "type": "quantitative"}, "text": {"field": "t"}}
    }
   ]
  }
 ],
 "resolve": {"scale": {"x": "independent", "y": "independent"}}
}
]
}
